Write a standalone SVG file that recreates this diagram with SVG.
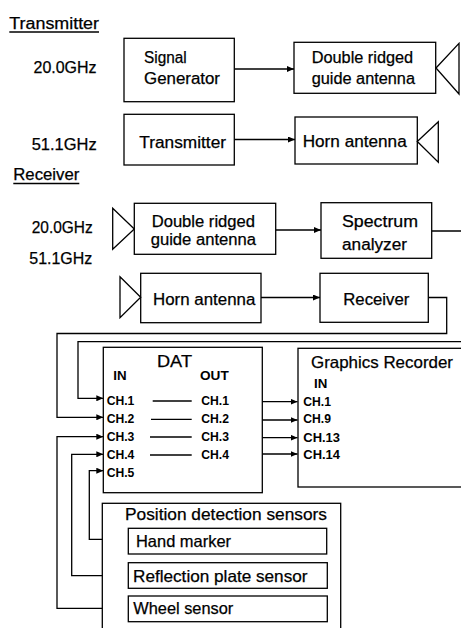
<svg xmlns="http://www.w3.org/2000/svg" width="461" height="628" viewBox="0 0 461 628">
<style>
text{font-family:"Liberation Sans",Arial,sans-serif;font-size:16px;fill:#000;stroke:#000;stroke-width:0.25}
.b{fill:#fff;stroke:#000;stroke-width:1.3}
.c{fill:none;stroke:#000;stroke-width:1.3}
.ch{font-size:12.5px;font-weight:bold;stroke-width:0}
.s16{font-size:16.5px}
</style>
<defs>
<marker id="a" markerUnits="userSpaceOnUse" markerWidth="8" markerHeight="6" refX="7" refY="3" orient="auto">
<path d="M0,0 L7,3 L0,6 z" fill="#000"/>
</marker>
</defs>

<g id="headers">
<text x="9.3" y="29" textLength="89.7" lengthAdjust="spacingAndGlyphs">Transmitter</text>
<line x1="9.3" y1="32" x2="99" y2="32" stroke="#000" stroke-width="1.3"/>
<text x="13.3" y="180" textLength="66" lengthAdjust="spacingAndGlyphs">Receiver</text>
<line x1="13.3" y1="183.5" x2="79.3" y2="183.5" stroke="#000" stroke-width="1.3"/>
<text x="33.5" y="72.5" textLength="63" lengthAdjust="spacingAndGlyphs">20.0GHz</text>
<text x="31.7" y="150" textLength="65" lengthAdjust="spacingAndGlyphs">51.1GHz</text>
<text x="31.7" y="233.3" textLength="61" lengthAdjust="spacingAndGlyphs">20.0GHz</text>
<text x="29.3" y="264" textLength="63" lengthAdjust="spacingAndGlyphs">51.1GHz</text>
</g>

<g id="connectors">
<line class="c" x1="234.3" y1="69" x2="294" y2="69" marker-end="url(#a)"/>
<line class="c" x1="234.3" y1="139.5" x2="295" y2="139.5" marker-end="url(#a)"/>
<line class="c" x1="275.7" y1="230" x2="321" y2="230" marker-end="url(#a)"/>
<line class="c" x1="261" y1="297.5" x2="320" y2="297.5" marker-end="url(#a)"/>
<path class="c" d="M431.7,231 H470 V341.7 H78 V398.3 H103.3" marker-end="url(#a)"/>
<path class="c" d="M428.3,297.5 H446.7 V333.5 H57 V417.3 H103.3" marker-end="url(#a)"/>
<path class="c" d="M129,539.3 H89.3 V470.7 H103.3" marker-end="url(#a)"/>
<path class="c" d="M129,575.7 H71.7 V454.3 H103.3" marker-end="url(#a)"/>
<path class="c" d="M129,608.3 H57 V436.7 H103.3" marker-end="url(#a)"/>
<line class="c" x1="250" y1="401.7" x2="297.5" y2="401.7" marker-end="url(#a)"/>
<line class="c" x1="252.7" y1="420" x2="297.5" y2="420" marker-end="url(#a)"/>
<line class="c" x1="252.7" y1="437.7" x2="297.5" y2="437.7" marker-end="url(#a)"/>
<line class="c" x1="252.7" y1="454" x2="297.5" y2="454" marker-end="url(#a)"/>
</g>

<g id="signal-generator">
<rect class="b" x="124" y="38.3" width="110.3" height="63.4"/>
<text x="144" y="63.3" textLength="42.7" lengthAdjust="spacingAndGlyphs">Signal</text>
<text x="144" y="84.3" textLength="76" lengthAdjust="spacingAndGlyphs">Generator</text>
</g>
<g id="tx-drg-antenna">
<rect class="b" x="294" y="42.3" width="141.7" height="51"/>
<text x="311.7" y="63.3" textLength="101.5" lengthAdjust="spacingAndGlyphs">Double ridged</text>
<text x="311.7" y="84" textLength="103.3" lengthAdjust="spacingAndGlyphs">guide antenna</text>
<polygon class="b" points="436,68 459,43.3 459,94"/>
</g>
<g id="tx-transmitter">
<rect class="b" x="124" y="114.3" width="110.3" height="50.7"/>
<text x="139.3" y="148.3" textLength="86.7" lengthAdjust="spacingAndGlyphs">Transmitter</text>
</g>
<g id="tx-horn-antenna">
<rect class="b" x="295" y="117" width="122.3" height="47"/>
<text x="302.7" y="146.7" textLength="104" lengthAdjust="spacingAndGlyphs">Horn antenna</text>
<polygon class="b" points="417.3,141.5 438.3,121.7 438.3,162.3"/>
</g>

<g id="rx-drg-antenna">
<rect class="b" x="134.3" y="203.3" width="141.4" height="51"/>
<text x="151.7" y="226.7" textLength="103.3" lengthAdjust="spacingAndGlyphs">Double ridged</text>
<text x="150.7" y="245" textLength="105.3" lengthAdjust="spacingAndGlyphs">guide antenna</text>
<polygon class="b" points="112.7,208.3 134.3,229 112.7,249.3"/>
</g>
<g id="spectrum-analyzer">
<rect class="b" x="321" y="202.7" width="110.7" height="55.6"/>
<text x="342" y="227.3" textLength="76" lengthAdjust="spacingAndGlyphs">Spectrum</text>
<text x="342" y="250" textLength="65" lengthAdjust="spacingAndGlyphs">analyzer</text>
</g>
<g id="rx-horn-antenna">
<rect class="b" x="140.7" y="273.3" width="120.3" height="49.4"/>
<text x="153" y="305" textLength="102.3" lengthAdjust="spacingAndGlyphs">Horn antenna</text>
<polygon class="b" points="120,276.7 140.7,297.3 120,317.7"/>
</g>
<g id="receiver">
<rect class="b" x="320" y="273.3" width="108.3" height="49"/>
<text x="343.3" y="305" textLength="66" lengthAdjust="spacingAndGlyphs">Receiver</text>
</g>

<g id="dat">
<rect class="b" x="103.3" y="347.3" width="159" height="145.4"/>
<text class="s16" x="157" y="366.7" textLength="35" lengthAdjust="spacingAndGlyphs">DAT</text>
<text class="ch" x="113.3" y="380" textLength="13.3" lengthAdjust="spacingAndGlyphs">IN</text>
<text class="ch" x="200" y="380" textLength="28.7" lengthAdjust="spacingAndGlyphs">OUT</text>
<text class="ch" x="106.7" y="405" textLength="27.7" lengthAdjust="spacingAndGlyphs">CH.1</text>
<text class="ch" x="106.7" y="423.3" textLength="27.7" lengthAdjust="spacingAndGlyphs">CH.2</text>
<text class="ch" x="106.7" y="441" textLength="27.7" lengthAdjust="spacingAndGlyphs">CH.3</text>
<text class="ch" x="106.7" y="459.3" textLength="27.7" lengthAdjust="spacingAndGlyphs">CH.4</text>
<text class="ch" x="106.7" y="476.7" textLength="27.7" lengthAdjust="spacingAndGlyphs">CH.5</text>
<text class="ch" x="201.3" y="405" textLength="27.7" lengthAdjust="spacingAndGlyphs">CH.1</text>
<text class="ch" x="201.3" y="423.3" textLength="27.7" lengthAdjust="spacingAndGlyphs">CH.2</text>
<text class="ch" x="201.3" y="441" textLength="27.7" lengthAdjust="spacingAndGlyphs">CH.3</text>
<text class="ch" x="201.3" y="459.3" textLength="27.7" lengthAdjust="spacingAndGlyphs">CH.4</text>
<line class="c" x1="152.7" y1="401" x2="191.7" y2="401"/>
<line class="c" x1="151" y1="419.3" x2="191.7" y2="419.3"/>
<line class="c" x1="150" y1="437" x2="191.7" y2="437"/>
<line class="c" x1="150" y1="455" x2="191.7" y2="455"/>
</g>

<g id="graphics-recorder">
<rect class="b" x="298" y="348.3" width="175" height="138.7"/>
<text class="s16" x="311" y="368.3" textLength="142" lengthAdjust="spacingAndGlyphs">Graphics Recorder</text>
<text class="ch" x="314" y="388.3" textLength="13.3" lengthAdjust="spacingAndGlyphs">IN</text>
<text class="ch" x="303.3" y="405.7" textLength="27.7" lengthAdjust="spacingAndGlyphs">CH.1</text>
<text class="ch" x="303.3" y="423.3" textLength="27.7" lengthAdjust="spacingAndGlyphs">CH.9</text>
<text class="ch" x="303.3" y="441.7" textLength="36.7" lengthAdjust="spacingAndGlyphs">CH.13</text>
<text class="ch" x="303.3" y="459.3" textLength="36.7" lengthAdjust="spacingAndGlyphs">CH.14</text>
</g>

<g id="position-detection-sensors">
<rect class="b" x="102.3" y="503.3" width="238.4" height="140"/>
<text class="s16" x="125" y="520" textLength="202" lengthAdjust="spacingAndGlyphs">Position detection sensors</text>
</g>
<g id="hand-marker">
<rect class="b" x="128.3" y="528.3" width="198.4" height="25.7"/>
<text class="s16" x="136" y="546.7" textLength="95" lengthAdjust="spacingAndGlyphs">Hand marker</text>
</g>
<g id="reflection-plate-sensor">
<rect class="b" x="128.3" y="562.7" width="199" height="25.6"/>
<text class="s16" x="133" y="581.7" textLength="174.5" lengthAdjust="spacingAndGlyphs">Reflection plate sensor</text>
</g>
<g id="wheel-sensor">
<rect class="b" x="128.3" y="596" width="199" height="25.7"/>
<text class="s16" x="133.3" y="614.3" textLength="100" lengthAdjust="spacingAndGlyphs">Wheel sensor</text>
</g>
</svg>
